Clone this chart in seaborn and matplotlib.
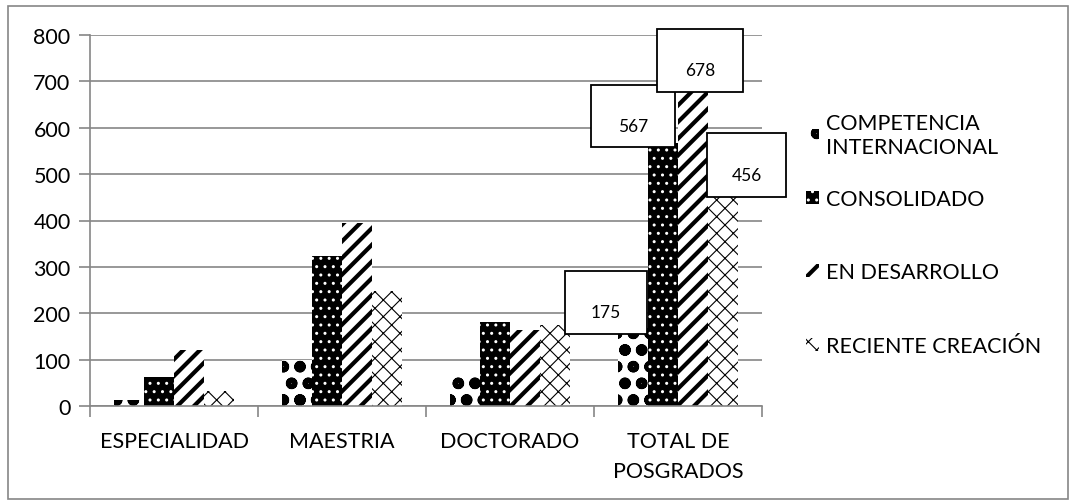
import numpy as np
import pandas as pd
import matplotlib
matplotlib.use('Agg')
import matplotlib.pyplot as plt
import seaborn as sns
from matplotlib.patches import Rectangle
from matplotlib.transforms import ScaledTranslation

# datos
niveles = ['ESPECIALIDAD', 'MAESTRIA', 'DOCTORADO', 'TOTAL DE\nPOSGRADOS']
estados = ['COMPETENCIA\nINTERNACIONAL', 'CONSOLIDADO', 'EN DESARROLLO', 'RECIENTE CREACIÓN']
competencia = [12, 100, 63, 175]
consolidado = [62, 323, 182, 567]
desarrollo = [120, 395, 163, 678]
reciente = [33, 248, 175, 456]
y_ticks = [0, 100, 200, 300, 400, 500, 600, 700, 800]

# etiquetas de la barra total: serie y su caja en pixeles respecto a la punta de la barra
etiquetas_total = [0, 1, 2, 3]
cajas = [(-68, -9, 82, 63), (-72, -4, 84, 62), (-36, 0, 86, 63), (-16, -2, 79, 64)]
# centro vertical (px desde arriba) de cada entrada de la leyenda
leyenda_y = [136, 200, 273, 347]

valores = [competencia, consolidado, desarrollo, reciente]
df = pd.DataFrame({
    'nivel': niveles * 4,
    'estado': [e for e in estados for _ in niveles],
    'valor': [v for serie in valores for v in serie],
})

gris = '#868686'
plt.rcParams['font.family'] = ['Lato', 'DejaVu Sans']
plt.rcParams['hatch.linewidth'] = 1.0

fig = plt.figure(figsize=(10.7, 5.02), dpi=100)
ax = fig.add_axes([90 / 1070, 1 - 407 / 502, 672 / 1070, 371 / 502])

sns.barplot(data=df, x='nivel', y='valor', hue='estado', order=niveles, hue_order=estados,
            palette=['white', 'black', 'white', 'white'], width=0.714, gap=0,
            saturation=1, ax=ax, legend=True)

estilos = [
    # (cara, color trama, trama, grosor)
    ('white', 'black', 'o', 3.6),
    ('black', 'white', '..', 1.0),
    ('white', 'black', '//', 3.0),
    ('white', 'black', 'xx', 0.8),
]


def aplicar_estilo(bar, estilo):
    fc, hc, h, lw = estilo
    bar.set_facecolor(fc)
    bar.set_edgecolor(hc)
    bar.set_linewidth(0)
    bar.set_hatch(h)
    if hasattr(bar, 'set_hatch_linewidth'):
        bar.set_hatch_linewidth(lw)


for cont, estilo in zip(ax.containers, estilos):
    for bar in cont:
        aplicar_estilo(bar, estilo)

ax.set_ylim(0, 800)
ax.set_yticks(y_ticks)
ax.set_xlim(-0.5, 3.5)
ax.set_xlabel('')
ax.set_ylabel('')
ax.grid(axis='y', color=gris, linewidth=1.2)
ax.set_axisbelow(True)
for lado in ['top', 'right']:
    ax.spines[lado].set_visible(False)
for lado in ['left', 'bottom']:
    ax.spines[lado].set_color(gris)
    ax.spines[lado].set_linewidth(1.2)
ax.tick_params(axis='y', length=8, color=gris, width=1.2, labelsize=15.5, pad=6)
ax.tick_params(axis='x', length=0, labelsize=15.5, pad=18)
ax.set_xticks(range(len(niveles)))
ax.set_xticklabels(niveles, linespacing=1.6)
# marcas entre categorias
ax.set_xticks(np.arange(-0.5, 4.0, 1.0), minor=True)
ax.tick_params(axis='x', which='minor', length=8, color=gris, width=1.2)

# cajas de etiquetas en la barra total
for serie, (dx, dy, w, h) in zip(etiquetas_total, cajas):
    bar = ax.containers[serie][3]
    xc = bar.get_x() + bar.get_width() / 2
    yv = bar.get_height()
    trans = fig.dpi_scale_trans + ScaledTranslation(xc, yv, ax.transData)
    caja = Rectangle((dx / 100, dy / 100), w / 100, h / 100, transform=trans,
                     facecolor='white', edgecolor='black', linewidth=1.3,
                     clip_on=False, zorder=5)
    ax.add_patch(caja)
    ax.text((dx + w / 2) / 100, (dy + h / 2 - 10) / 100, f'{valores[serie][3]}',
            transform=trans, ha='center', va='center', fontsize=12.5, zorder=6)

# leyenda: una entrada por fila, como en Excel
handles, labels = ax.get_legend_handles_labels()
ax.get_legend().remove()
for parche, texto, estilo, yc in zip(handles, labels, estilos, leyenda_y):
    leg = fig.legend([parche], [texto], loc='center left',
                     bbox_to_anchor=(806 / 1070, 1 - yc / 502), frameon=False, fontsize=15.5,
                     handlelength=0.6, handleheight=0.6, handletextpad=0.35, borderaxespad=0,
                     borderpad=0)
    for h in leg.legend_handles:
        aplicar_estilo(h, estilo)

# borde del area del grafico
fig.add_artist(Rectangle((8 / 1070, 2 / 502), 1060 / 1070, 493 / 502, transform=fig.transFigure,
                         fill=False, edgecolor=gris, linewidth=1.2))

fig.savefig('out.png', dpi=100)
